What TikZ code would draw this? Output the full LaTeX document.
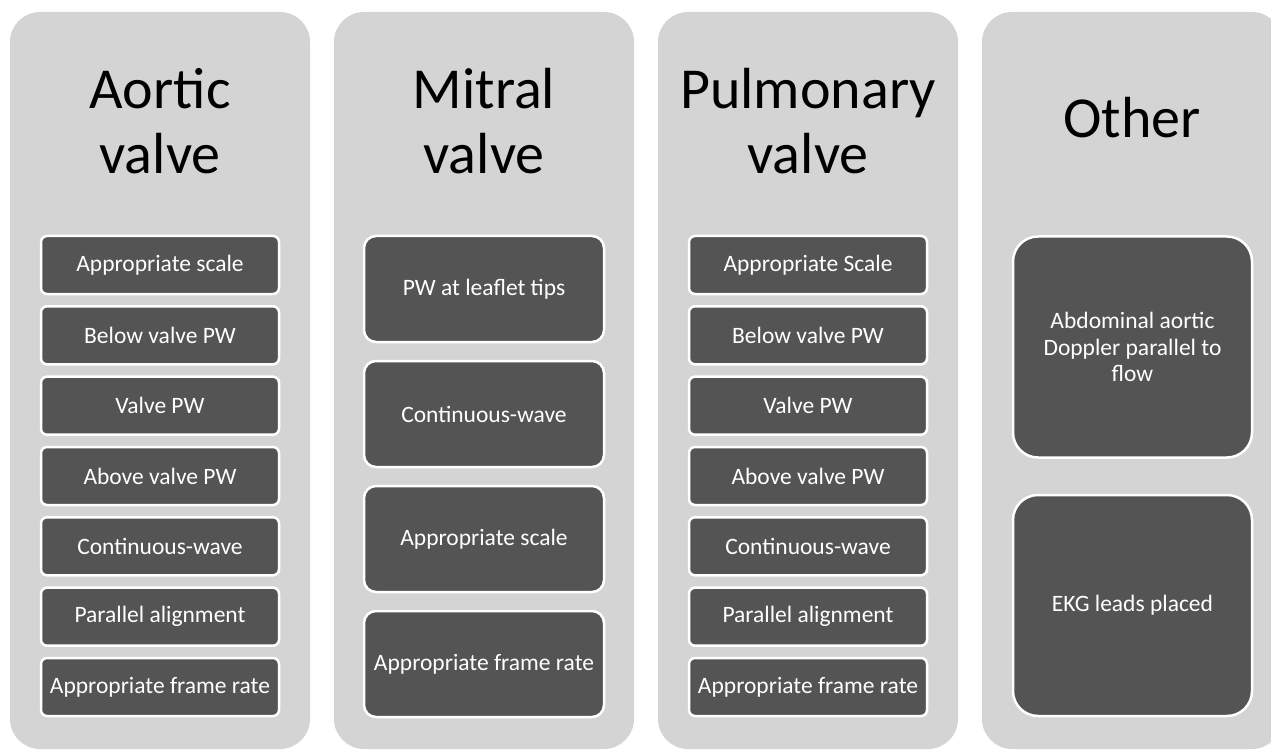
\documentclass[tikz,border=0pt]{standalone}
\usepackage{fontspec}
\setmainfont{Carlito}
\definecolor{panelgray}{HTML}{D4D4D4}
\definecolor{boxgray}{HTML}{545454}
\begin{document}
\begin{tikzpicture}[x=1pt,y=1pt,yscale=-1,
  panel/.style={fill=panelgray, rounded corners=30pt},
  title/.style={font=\fontsize{58}{65}\selectfont, align=center, text=black},
  stepbox/.style={fill=boxgray, draw=white, line width=2.5pt, rounded corners=6pt,
    text=white, font=\fontsize{23.5}{26.5}\selectfont, align=center, inner sep=0pt,
    minimum width=238pt, minimum height=58pt},
  tallbox/.style={stepbox, rounded corners=12pt, minimum width=240pt, minimum height=106pt},
  bigbox/.style={stepbox, rounded corners=25pt, minimum width=239pt, minimum height=221pt}]
\useasboundingbox (0,0) rectangle (1271,751);

% background panels
\fill[panel] (10,12) rectangle (310,749);
\fill[panel] (334,12) rectangle (634,749);
\fill[panel] (658,12) rectangle (958,749);
\fill[panel] (982,12) rectangle (1282,749);

% titles
\node[title] (aortic) at (160,121) {Aortic\\valve};
\node[title] (mitral) at (484,121) {Mitral\\valve};
\node[title] (pulmonary) at (808,121) {Pulmonary\\valve};
\node[title, anchor=base] (other) at (1132,138) {Other};

% aortic valve
\node[stepbox] (a1) at (160,265) {Appropriate scale};
\node[stepbox] (a2) at (160,335.3) {Below valve PW};
\node[stepbox] (a3) at (160,405.7) {Valve PW};
\node[stepbox] (a4) at (160,476) {Above valve PW};
\node[stepbox] (a5) at (160,546.3) {Continuous-wave};
\node[stepbox] (a6) at (160,616.7) {Parallel alignment};
\node[stepbox] (a7) at (160,687) {Appropriate frame rate};

% mitral valve
\node[tallbox] (m1) at (484,289) {PW at leaflet tips};
\node[tallbox] (m2) at (484,414) {Continuous-wave};
\node[tallbox] (m3) at (484,539) {Appropriate scale};
\node[tallbox] (m4) at (484,664) {Appropriate frame rate};

% pulmonary valve
\node[stepbox] (p1) at (808,265) {Appropriate Scale};
\node[stepbox] (p2) at (808,335.3) {Below valve PW};
\node[stepbox] (p3) at (808,405.7) {Valve PW};
\node[stepbox] (p4) at (808,476) {Above valve PW};
\node[stepbox] (p5) at (808,546.3) {Continuous-wave};
\node[stepbox] (p6) at (808,616.7) {Parallel alignment};
\node[stepbox] (p7) at (808,687) {Appropriate frame rate};

% other
\node[bigbox] (o1) at (1132.5,347) {Abdominal aortic\\Doppler parallel to\\flow};
\node[bigbox] (o2) at (1132.5,605.5) {EKG leads placed};

\end{tikzpicture}
\end{document}
